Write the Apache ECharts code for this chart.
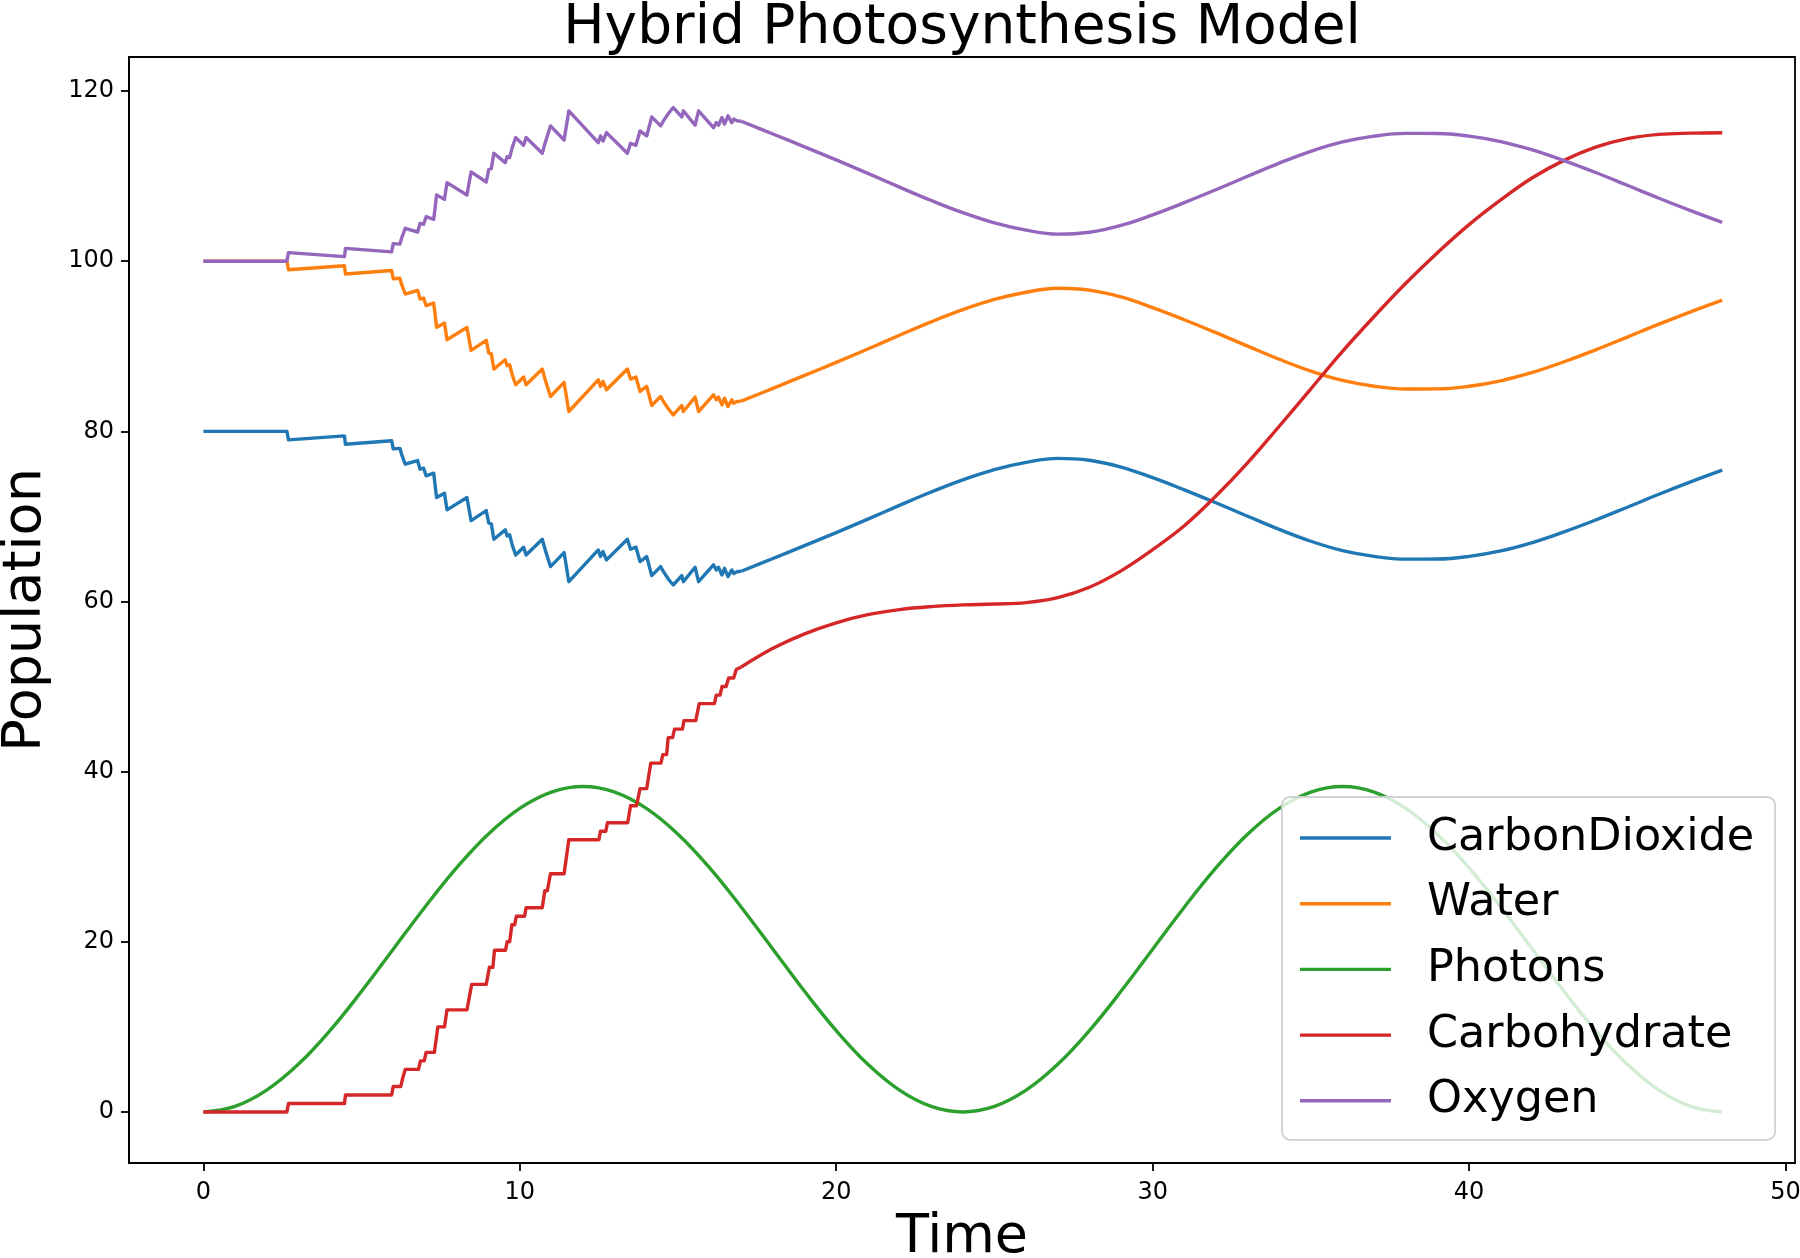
<!DOCTYPE html>
<html>
<head>
<meta charset="utf-8">
<script src="https://cdn.jsdelivr.net/npm/echarts@6/dist/echarts.min.js"></script>
<style>
html,body{margin:0;padding:0;background:#fff;}
#chart{width:1800px;height:1258px;}
</style>
</head>
<body>
<div id="chart"></div>
<script>
// ---- data ----
const seriesNames = ['CarbonDioxide', 'Water', 'Photons', 'Carbohydrate', 'Oxygen'];
const xTicks = [0, 10, 20, 30, 40, 50];
const yTicks = [0, 20, 40, 60, 80, 100, 120];

// stochastic phase (CO2 / Water / Oxygen share the same time points)
const stochTime = [0,2.64,2.69,4.46,4.49,5.95,6.0,6.21,6.27,6.38,6.77,6.85,6.96,7.04,7.28,7.37,7.62,7.70,8.33,8.46,8.94,9.02,9.1,9.18,9.54,9.6,9.68,9.76,9.87,10.12,10.2,10.71,10.81,10.87,10.97,11.4,11.55,12.48,12.55,12.63,12.74,13.4,13.5,13.67,13.8,14.01,14.17,14.45,14.54,14.59,14.7,14.75,14.85,15.12,15.17,15.54,15.65,16.12,16.21,16.28,16.39,16.47,16.58,16.7,16.76,16.86,17];
const co2Stoch = [80,80,79.0,79.47,78.49,78.9,77.94,78.0,77.24,76.14,76.57,75.55,75.67,74.77,75.08,72.22,72.73,70.77,72.22,69.51,70.69,69.2,69.12,67.32,68.42,67.71,67.83,66.65,65.47,66.38,65.47,67.32,65.98,65.87,64.1,65.75,62.33,66.06,65.28,65.87,64.89,67.32,66.14,66.38,64.69,65.28,63.04,64.1,63.51,63.71,62.61,62.73,61.94,63.04,62.33,64.02,62.33,64.3,63.71,64.02,63.12,63.9,62.92,63.71,63.3,63.5,63.55];
const waterStoch = [100,100,99.0,99.47,98.49,98.9,97.94,98.0,97.24,96.14,96.57,95.55,95.67,94.77,95.08,92.22,92.73,90.77,92.22,89.51,90.69,89.2,89.12,87.32,88.42,87.71,87.83,86.65,85.47,86.38,85.47,87.32,85.98,85.87,84.1,85.75,82.33,86.06,85.28,85.87,84.89,87.32,86.14,86.38,84.69,85.28,83.04,84.1,83.51,83.71,82.61,82.73,81.94,83.04,82.33,84.02,82.33,84.3,83.71,84.02,83.12,83.9,82.92,83.71,83.3,83.5,83.55];
const oxygenStoch = [100,100,101.0,100.53,101.51,101.1,102.06,102.0,102.76,103.86,103.43,104.45,104.33,105.23,104.92,107.78,107.27,109.23,107.78,110.49,109.31,110.8,110.88,112.68,111.58,112.29,112.17,113.35,114.53,113.62,114.53,112.68,114.02,114.13,115.9,114.25,117.67,113.94,114.72,114.13,115.11,112.68,113.86,113.62,115.31,114.72,116.96,115.9,116.49,116.29,117.39,117.27,118.06,116.96,117.67,115.98,117.67,115.7,116.29,115.98,116.88,116.1,117.08,116.29,116.7,116.5,116.45];

const carbTime = [0,2.64,2.69,4.46,4.49,5.95,6.0,6.24,6.3,6.38,6.8,6.86,6.98,7.04,7.3,7.41,7.62,7.7,8.33,8.48,8.94,9.04,9.15,9.2,9.55,9.6,9.68,9.75,9.84,9.89,10.15,10.2,10.71,10.79,10.87,10.97,11.4,11.55,12.5,12.55,12.72,12.77,13.41,13.5,13.69,13.8,14.01,14.14,14.46,14.52,14.64,14.69,14.83,14.89,15.14,15.19,15.56,15.67,16.15,16.21,16.33,16.39,16.52,16.6,16.76,16.84,17];
const carbStoch = [0,0,1,1,2,2,3,3,4,5,5,6,6,7,7,10,10,12,12,15,15,17,17,19,19,20,20,22,22,23,23,24,24,26,26,28,28,32,32,33,33,34,34,36,36,38,38,41,41,42,42,44,44,45,45,46,46,48,48,49,49,50,50,51,51,52,52.3];

// deterministic phase
const smoothTime = [17,18,19,20,21,22,23,24,25,26,27,28,29,30,31,32,33,34,35,36,37,38,39,40,41,42,43,44,45,46,47,48];
const co2Smooth = [63.55,65.05,66.57,68.1,69.68,71.3,72.87,74.3,75.5,76.35,76.82,76.6,75.8,74.55,73.12,71.6,70.02,68.47,67.08,65.98,65.3,64.98,64.99,65.3,65.94,66.92,68.18,69.58,71.08,72.6,74.05,75.43];
const waterSmooth = [83.55,85.05,86.57,88.1,89.68,91.3,92.87,94.3,95.5,96.35,96.82,96.6,95.8,94.55,93.12,91.6,90.02,88.47,87.08,85.98,85.3,84.98,84.99,85.3,85.94,86.92,88.18,89.58,91.08,92.6,94.05,95.43];
const oxygenSmooth = [116.45,114.95,113.43,111.9,110.32,108.7,107.13,105.7,104.5,103.65,103.18,103.4,104.2,105.45,106.88,108.4,109.98,111.53,112.92,114.02,114.7,115.02,115.01,114.7,114.06,113.08,111.82,110.42,108.92,107.4,105.95,104.57];
const carbSmooth = [52.3,54.5,56.2,57.5,58.45,59.05,59.4,59.6,59.7,59.87,60.45,61.67,63.6,66.1,68.9,72.4,76.3,80.6,85.0,89.4,93.5,97.4,101.0,104.3,107.2,109.8,111.85,113.4,114.4,114.9,115.05,115.1];

const photonTime = [0,1,2,3,4,5,6,7,8,9,10,11,12,13,14,15,16,17,18,19,20,21,22,23,24,25,26,27,28,29,30,31,32,33,34,35,36,37,38,39,40,41,42,43,44,45,46,47,48];
const photons = [0,0.65,2.56,5.6,9.56,14.18,19.13,24.07,28.69,32.65,35.69,37.6,38.25,37.6,35.69,32.65,28.69,24.07,19.13,14.18,9.56,5.6,2.56,0.65,0,0.65,2.56,5.6,9.56,14.18,19.13,24.07,28.69,32.65,35.69,37.6,38.25,37.6,35.69,32.65,28.69,24.07,19.13,14.18,9.56,5.6,2.56,0.65,0];

// ---- chart ----
const colors = {CarbonDioxide:'#1f77b4', Water:'#ff7f0e', Photons:'#2ca02c', Carbohydrate:'#d62728', Oxygen:'#9467bd'};
const FONT = '"DejaVu Sans", "Liberation Sans", sans-serif';
const zip = (xs, ys) => xs.map((x, i) => [x, ys[i]]);

function line(name, data, smooth) {
  return {
    type: 'line', name: name, data: data, smooth: smooth ? 0.4 : false,
    symbol: 'none', showSymbol: false, color: colors[name],
    lineStyle: {color: colors[name], width: 3.4, join: 'round'},
    emphasis: {disabled: true}, animation: false
  };
}

const series = [
  line('CarbonDioxide', zip(stochTime, co2Stoch), false),
  line('CarbonDioxide', zip(smoothTime, co2Smooth), true),
  line('Water', zip(stochTime, waterStoch), false),
  line('Water', zip(smoothTime, waterSmooth), true),
  line('Photons', zip(photonTime, photons), true),
  line('Carbohydrate', zip(carbTime, carbStoch), false),
  line('Carbohydrate', zip(smoothTime, carbSmooth), true),
  line('Oxygen', zip(stochTime, oxygenStoch), false),
  line('Oxygen', zip(smoothTime, oxygenSmooth), true)
];

const axisCommon = {
  type: 'value',
  splitLine: {show: false},
  axisLine: {show: true, onZero: false, lineStyle: {color: '#000', width: 1.8}},
  axisTick: {show: true, length: 8, lineStyle: {color: '#000', width: 1.8}},
  axisLabel: {color: '#000', fontSize: 24, fontFamily: FONT},
  nameLocation: 'middle',
  nameTextStyle: {color: '#000', fontSize: 54, fontFamily: FONT, lineHeight: 54}
};

const chart = echarts.init(document.getElementById('chart'), null, {renderer: 'canvas'});
chart.setOption({
  animation: false,
  backgroundColor: '#fff',
  grid: {left: 129, right: 5, top: 57, bottom: 95, containLabel: false, outerBoundsMode: 'none',
         show: true, borderColor: '#000', borderWidth: 1.8, backgroundColor: 'transparent'},
  xAxis: Object.assign({}, axisCommon, {
    min: -2.35, max: 50.3, name: 'Time', nameGap: 48,
    axisTick: Object.assign({}, axisCommon.axisTick, {customValues: xTicks}),
    axisLabel: Object.assign({}, axisCommon.axisLabel, {customValues: xTicks, margin: 18})
  }),
  yAxis: Object.assign({}, axisCommon, {
    min: -6, max: 124, name: 'Population', nameGap: 76,
    axisTick: Object.assign({}, axisCommon.axisTick, {customValues: yTicks}),
    axisLabel: Object.assign({}, axisCommon.axisLabel, {customValues: yTicks, margin: 15})
  }),
  legend: {
    data: seriesNames, orient: 'vertical', left: 1282, top: 797,
    padding: [16, 21, 14, 18], itemGap: 15.7, itemWidth: 91, itemHeight: 3.4,
    icon: 'rect', selectedMode: false,
    backgroundColor: 'rgba(255,255,255,0.8)', borderColor: '#d0d0d0', borderWidth: 1.8, borderRadius: 8,
    textStyle: {color: '#000', fontSize: 44.5, fontFamily: FONT, lineHeight: 50, padding: [0, 0, 0, 31]}
  },
  graphic: [{
    type: 'text', x: 962, y: 29,
    style: {text: 'Hybrid Photosynthesis Model', fontSize: 55, fontFamily: FONT, fill: '#000', align: 'center', verticalAlign: 'middle'}
  }],
  series: series
});
</script>
</body>
</html>
